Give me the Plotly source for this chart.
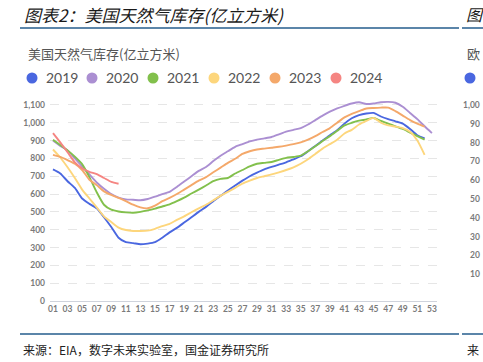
import plotly.graph_objects as go

# ---------------- data ----------------
weeks = list(range(1, 54))
week_labels = [f"{w:02d}" for w in weeks]
tick_weeks = [w for w in weeks if w % 2 == 1]

years = ["2019", "2020", "2021", "2022", "2023", "2024"]
colors = ["#4a67e0", "#ab8fd2", "#82c04c", "#fdd67c", "#f4a86a", "#f58582"]

s2019 = [738, 715, 672, 634, 575, 545, 520, 470, 415, 355,
         330, 325, 318, 322, 330, 355, 385, 410, 440, 470,
         500, 528, 560, 590, 620, 648, 675, 700, 720, 738,
         752, 765, 778, 795, 812, 840, 870, 900, 930, 958,
         995, 1025, 1043, 1052, 1055, 1035, 1020, 1008, 995, 965,
         930, 912]
s2020 = [900, 870, 845, 800, 755, 710, 665, 630, 600, 580,
         570, 568, 565, 572, 585, 600, 612, 640, 670, 700,
         730, 752, 785, 815, 840, 865, 880, 895, 905, 912,
         920, 935, 950, 960, 970, 990, 1015, 1040, 1062, 1080,
         1095, 1108, 1115, 1105, 1108, 1115, 1117, 1112, 1090, 1055,
         1020, 980, 942]
s2021 = [905, 875, 845, 810, 768, 695, 610, 540, 512, 502,
         497, 495, 500, 508, 518, 530, 542, 560, 580, 603,
         625, 648, 672, 685, 690, 715, 735, 755, 770, 775,
         780, 792, 803, 808, 815, 840, 868, 897, 925, 955,
         985, 1000, 1012, 1018, 1027, 1010, 995, 980, 965, 945,
         925, 905]
s2022 = [850, 805, 750, 690, 625, 575, 525, 475, 443, 412,
         398, 393, 393, 395, 405, 420, 433, 455, 475, 498,
         520, 540, 565, 590, 612, 635, 658, 675, 690, 700,
         710, 722, 735, 750, 770, 795, 825, 855, 880, 905,
         940, 960, 990, 1010, 1027, 1000, 985, 978, 970, 950,
         900, 820]
s2023 = [820, 808, 790, 770, 735, 680, 650, 615, 595, 578,
         560, 540, 525, 520, 535, 560, 578, 600, 625, 650,
         675, 695, 722, 748, 775, 798, 825, 840, 850, 855,
         860, 865, 872, 880, 890, 905, 925, 948, 970, 1000,
         1030, 1050, 1065, 1080, 1083, 1085, 1085, 1065, 1040, 1015,
         995, 978]
s2024 = [942, 890, 835, 778, 745, 725, 712, 690, 668, 658]
series = [s2019, s2020, s2021, s2022, s2023, s2024]

y_ticks = list(range(0, 1101, 100))
# visible parts of the neighbouring chart's y labels (cut by the page edge)
right_chart_ticks = ["1,00", "90", "80", "70", "60", "50", "40", "30", "20", "10"]

title_text = "图表2：美国天然气库存(亿立方米)"
chart_title = "美国天然气库存(亿立方米)"
source_text = "来源：EIA，数字未来实验室，国金证券研究所"

# ---------------- layout helpers ----------------
W, H = 483, 362
L, R, T, B = 50, 46, 96, 61
PW, PH = W - L - R, H - T - B


def px(x):
    return (x - L) / PW


def py(y):
    return (H - B - y) / PH


CJK = "Noto Sans CJK SC"
tickfont = dict(family="Lato", size=8.5, color="#7a7a7a", weight="bold")

fig = go.Figure()
for name, vals, col in zip(years, series, colors):
    fig.add_trace(go.Scatter(
        x=weeks[:len(vals)], y=vals, mode="lines", name=name,
        line=dict(color=col, width=1.9, shape="spline", smoothing=0.6),
        showlegend=False, hoverinfo="skip"))

annotations = []
shapes = []

# header
annotations.append(dict(x=px(22), y=py(14), xref="paper", yref="paper", text=title_text,
                        showarrow=False, xanchor="left", yanchor="middle",
                        font=dict(family=CJK, size=17, color="#1a1a1a", style="italic")))
annotations.append(dict(x=px(464), y=py(14), xref="paper", yref="paper", text="图",
                        showarrow=False, xanchor="left", yanchor="middle",
                        font=dict(family=CJK, size=16, color="#1a1a1a", style="italic")))
for x0, x1 in [(20, 459), (462, 483)]:
    shapes.append(dict(type="line", xref="paper", yref="paper", x0=px(x0), x1=px(x1),
                       y0=py(28), y1=py(28), line=dict(color="#245d8c", width=1.5)))
    shapes.append(dict(type="line", xref="paper", yref="paper", x0=px(x0), x1=px(x1),
                       y0=py(334), y1=py(334), line=dict(color="#245d8c", width=1.5)))

# inner chart title
annotations.append(dict(x=px(26), y=py(53), xref="paper", yref="paper", text=chart_title,
                        showarrow=False, xanchor="left", yanchor="middle",
                        font=dict(family=CJK, size=13, color="#555555")))
annotations.append(dict(x=px(465), y=py(53), xref="paper", yref="paper", text="欧",
                        showarrow=False, xanchor="left", yanchor="middle",
                        font=dict(family=CJK, size=13, color="#555555")))

# legend (dots + labels)
dot_x = [32, 92, 153, 214, 275, 336]
for name, col, dx in zip(years, colors, dot_x):
    shapes.append(dict(type="circle", xref="paper", yref="paper",
                       xsizemode="pixel", ysizemode="pixel",
                       xanchor=px(dx), yanchor=py(78), x0=-5.5, x1=5.5, y0=-5.5, y1=5.5,
                       fillcolor=col, line=dict(width=0)))
    annotations.append(dict(x=px(dx + 12), y=py(78), xref="paper", yref="paper", text=name,
                            showarrow=False, xanchor="left", yanchor="middle",
                            font=dict(family="Lato", size=14, color="#555555")))
shapes.append(dict(type="circle", xref="paper", yref="paper",
                   xsizemode="pixel", ysizemode="pixel",
                   xanchor=px(470), yanchor=py(78), x0=-5.5, x1=5.5, y0=-5.5, y1=5.5,
                   fillcolor=colors[0], line=dict(width=0)))

# neighbouring chart's axis labels (only the visible part)
for i, lab in enumerate(right_chart_ticks):
    annotations.append(dict(x=px(482), y=py(105 + i * 18.8), xref="paper", yref="paper",
                            text=lab, showarrow=False, xanchor="right", yanchor="middle",
                            font=tickfont))

# source
annotations.append(dict(x=px(21), y=py(349), xref="paper", yref="paper", text=source_text,
                        showarrow=False, xanchor="left", yanchor="middle",
                        font=dict(family=CJK, size=12, color="#222222")))
annotations.append(dict(x=px(465), y=py(349), xref="paper", yref="paper", text="来",
                        showarrow=False, xanchor="left", yanchor="middle",
                        font=dict(family=CJK, size=12, color="#222222")))

fig.update_layout(
    width=W, height=H,
    margin=dict(l=L, r=R, t=T, b=B, pad=0),
    paper_bgcolor="white", plot_bgcolor="white",
    showlegend=False,
    annotations=annotations, shapes=shapes,
    xaxis=dict(range=[0.59, 53.7], tickmode="array", tickvals=tick_weeks,
               ticktext=[week_labels[w - 1] for w in tick_weeks],
               tickfont=tickfont, showgrid=False, zeroline=False,
               showline=True, linecolor="#cfd3dc", linewidth=1, ticks="",
               fixedrange=True),
    yaxis=dict(range=[0, 1150], tickmode="array", tickvals=y_ticks,
               tickformat=",d", tickfont=tickfont, showgrid=True,
               gridcolor="#e6e6e6", griddash="dash", gridwidth=1,
               zeroline=False, showline=False, ticks="", ticklabelstandoff=4,
               fixedrange=True),
)

fig.write_html("out.html", config={"displayModeBar": False},
               post_script="document.body.style.margin='0';document.body.style.overflow='hidden';")
